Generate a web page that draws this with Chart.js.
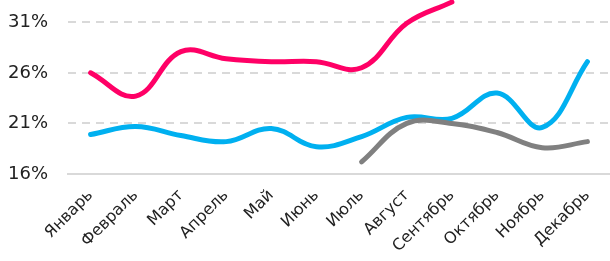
<!DOCTYPE html>
<html><head><meta charset="utf-8">
<script src="https://cdn.jsdelivr.net/npm/chart.js@4"></script>
<style>html,body{margin:0;padding:0;background:#fff}#wrap{width:610px;height:261px}</style>
</head><body><div id="wrap"><canvas id="c"></canvas></div>
<script>
const categories = ["Январь","Февраль","Март","Апрель","Май","Июнь","Июль","Август","Сентябрь","Октябрь","Ноябрь","Декабрь"];
const pinkSeries = [26.0, 23.7, 28.1, 27.4, 27.1, 27.1, 26.5, 30.9, 33.0, null, null, null];
const blueSeries = [19.9, 20.7, 19.8, 19.2, 20.5, 18.7, 19.7, 21.6, 21.5, 24.0, 20.6, 27.1];
const graySeries = [null, null, null, null, null, null, 17.2, 21.0, 21.0, 20.1, 18.6, 19.2];
const yTicks = [16, 21, 26, 31];

const FONT = "'DejaVu Sans', sans-serif";
const mk = (data, color) => ({data, borderColor: color, backgroundColor: color, borderWidth: 5, tension: 0.4, pointRadius: 0, fill: false, spanGaps: false, clip: false, borderCapStyle: 'round'});

new Chart(document.getElementById('c'), {
  type: 'line',
  data: {labels: categories, datasets: [mk(graySeries, '#808080'), mk(blueSeries, '#00B0F0'), mk(pinkSeries, '#FF0066')]},
  options: {
    responsive: true, maintainAspectRatio: false, animation: false,
    layout: {padding: 0},
    plugins: {legend: {display: false}, tooltip: {enabled: false}},
    scales: {
      x: {
        offset: true,
        grid: {display: false},
        border: {display: true, color: '#d9d9d9', width: 2},
        ticks: {maxRotation: 45, minRotation: 45, padding: 4, color: '#222', font: {family: FONT, size: 16}},
        afterFit: s => { s.height = 87; s.paddingLeft = 0; s.paddingRight = 0; }
      },
      y: {
        min: 16, max: 33.2,
        afterBuildTicks: s => { s.ticks = yTicks.map(v => ({value: v})); },
        grid: {color: '#d9d9d9', lineWidth: 2, drawTicks: false},
        border: {display: false, dash: [8, 6]},
        ticks: {padding: 20, color: '#222', font: {family: FONT, size: 18}, callback: v => v + '%'},
        afterFit: s => { s.width = 68; s.paddingTop = 0; s.paddingBottom = 0; }
      }
    }
  }
});
</script></body></html>
